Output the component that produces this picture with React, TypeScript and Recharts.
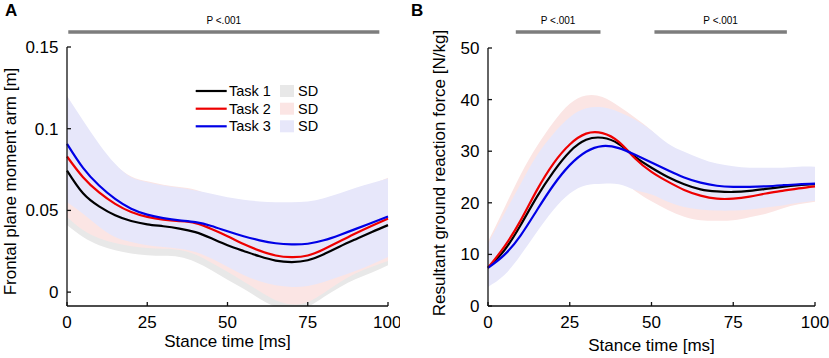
import { ComposedChart, Area, Line, XAxis, YAxis, ReferenceArea } from 'recharts';

const font = 'Arial, "Liberation Sans", Helvetica, sans-serif';

// stance time, ms
const time = [0, 5, 10, 15, 20, 25, 30, 35, 40, 45, 50, 55, 60, 65, 70, 75, 80, 85, 90, 95, 100];

// A: frontal plane moment arm [m]
const armTask1 = [0.0744, 0.0605, 0.0525, 0.047, 0.0435, 0.0415, 0.0403, 0.0389, 0.0367, 0.0329, 0.0287, 0.0252, 0.0219, 0.0193, 0.0184, 0.0195, 0.0232, 0.0279, 0.0324, 0.0368, 0.041];
const armTask2 = [0.083, 0.0703, 0.061, 0.054, 0.049, 0.046, 0.0443, 0.0434, 0.0422, 0.0386, 0.0342, 0.0294, 0.0254, 0.0224, 0.0214, 0.0224, 0.0263, 0.0311, 0.036, 0.0406, 0.045];
const armTask3 = [0.0907, 0.076, 0.0652, 0.057, 0.051, 0.0474, 0.0453, 0.0439, 0.0428, 0.0405, 0.0372, 0.0342, 0.0317, 0.0299, 0.0292, 0.0296, 0.0317, 0.035, 0.0387, 0.0425, 0.0463];
const armSd1Lo = [0.041, 0.0337, 0.0287, 0.0256, 0.0236, 0.0226, 0.0222, 0.0215, 0.0185, 0.0134, 0.0075, 0.002, -0.004, -0.009, -0.011, -0.009, -0.003, 0.003, 0.008, 0.012, 0.0165];
const armSd1Hi = [0.107, 0.087, 0.077, 0.068, 0.063, 0.06, 0.059, 0.057, 0.055, 0.052, 0.05, 0.049, 0.048, 0.048, 0.048, 0.048, 0.052, 0.055, 0.058, 0.062, 0.066];
const armSd2Lo = [0.046, 0.038, 0.033, 0.03, 0.028, 0.027, 0.0265, 0.0258, 0.023, 0.018, 0.0125, 0.0065, 0.0005, -0.005, -0.0075, -0.006, -0.0005, 0.006, 0.0115, 0.0155, 0.019];
const armSd2Hi = [0.12, 0.103, 0.089, 0.078, 0.0708, 0.0678, 0.0657, 0.0643, 0.0626, 0.059, 0.056, 0.052, 0.051, 0.05, 0.05, 0.051, 0.055, 0.059, 0.062, 0.066, 0.07];
const armSd3Lo = [0.055, 0.048, 0.04, 0.0337, 0.0307, 0.0287, 0.0276, 0.0266, 0.0246, 0.0205, 0.0155, 0.0105, 0.0066, 0.0042, 0.0032, 0.0038, 0.0062, 0.0095, 0.013, 0.017, 0.0215];
const armSd3Hi = [0.12, 0.105, 0.0907, 0.0785, 0.0703, 0.0673, 0.0652, 0.0638, 0.0622, 0.0602, 0.058, 0.0565, 0.0555, 0.055, 0.055, 0.0555, 0.0575, 0.0605, 0.0638, 0.0668, 0.0695];
const armTicks = [0, 0.05, 0.1, 0.15];
const armSig = [[0.4, 97.3]];

// B: resultant ground reaction force [N/kg]
const grfTask1 = [7.4, 10.8, 15.7, 21.2, 26.0, 29.9, 32.2, 32.6, 31.4, 28.9, 26.8, 25.0, 23.6, 22.6, 22.2, 22.1, 22.3, 22.7, 23.1, 23.4, 23.6];
const grfTask2 = [7.4, 11.5, 16.6, 22.5, 27.6, 31.3, 33.4, 33.5, 31.8, 28.6, 26.0, 24.1, 22.5, 21.4, 20.8, 20.8, 21.2, 21.8, 22.3, 22.8, 23.2];
const grfTask3 = [7.4, 9.9, 13.7, 18.6, 23.4, 27.3, 29.9, 31.0, 30.6, 29.3, 27.8, 26.3, 24.9, 23.9, 23.3, 23.1, 23.1, 23.2, 23.4, 23.6, 23.7];
const grfSd1Lo = [3.8, 6.5, 10.5, 15.0, 19.0, 22.2, 24.3, 25.0, 24.8, 23.0, 21.0, 19.5, 18.5, 17.9, 17.6, 17.7, 18.1, 18.7, 19.3, 19.9, 20.4];
const grfSd1Hi = [11.0, 17.0, 23.5, 29.5, 34.5, 37.8, 39.6, 39.6, 38.5, 36.0, 33.3, 30.8, 29.0, 27.5, 26.6, 26.3, 26.3, 26.5, 26.7, 26.8, 26.9];
const grfSd2Lo = [3.8, 6.8, 10.8, 15.2, 19.2, 22.5, 24.5, 25.3, 24.5, 22.3, 20.3, 18.6, 17.3, 16.6, 16.5, 16.6, 17.2, 17.9, 18.9, 19.7, 20.2];
const grfSd2Hi = [12.5, 19.0, 25.5, 31.0, 35.6, 39.2, 40.8, 40.5, 38.7, 36.5, 34.0, 30.8, 28.8, 27.5, 26.5, 26.0, 25.9, 26.0, 26.3, 26.5, 26.6];
const grfSd3Lo = [3.7, 6.0, 9.9, 14.4, 18.6, 21.8, 23.4, 23.7, 23.6, 22.5, 21.6, 20.2, 19.2, 18.7, 18.5, 18.5, 18.7, 19.1, 19.5, 20.0, 20.4];
const grfSd3Hi = [12.1, 17.9, 23.7, 29.2, 33.4, 36.6, 38.3, 38.5, 37.6, 36.1, 34.0, 31.5, 29.9, 28.6, 27.6, 27.1, 26.8, 26.8, 26.8, 27.0, 27.0];
const grfTicks = [0, 10, 20, 30, 40, 50];
const grfSig = [[8.5, 34.4], [50.9, 91.4]];

const xTicks = [0, 25, 50, 75, 100];

const taskColors = ['#000000', '#ee0000', '#0000e6'];
const sdColors = ['#e8e8e8', '#fbe5e4', '#e7e7fa'];

function buildRows(means: number[][], los: number[][], his: number[][]) {
  return time.map((t, i) => ({
    t,
    task1: means[0][i],
    task2: means[1][i],
    task3: means[2][i],
    sd1: [los[0][i], his[0][i]],
    sd2: [los[1][i], his[1][i]],
    sd3: [los[2][i], his[2][i]],
  }));
}

const armRows = buildRows(
  [armTask1, armTask2, armTask3],
  [armSd1Lo, armSd2Lo, armSd3Lo],
  [armSd1Hi, armSd2Hi, armSd3Hi],
);
const grfRows = buildRows(
  [grfTask1, grfTask2, grfTask3],
  [grfSd1Lo, grfSd2Lo, grfSd3Lo],
  [grfSd1Hi, grfSd2Hi, grfSd3Hi],
);

interface PanelProps {
  data: ReturnType<typeof buildRows>;
  width: number;
  yWidth: number;
  top: number;
  right: number;
  domain: [number, number];
  ticks: number[];
  yLabel: string;
  yLabelOffset: number;
  yLabelShift: number;
  xLabelOffset: number;
  sig: number[][];
  sigBar: [number, number];
}

function Panel(p: PanelProps) {
  const tickStyle = { fill: '#000', fontSize: 17, fontFamily: font };
  return (
    <ComposedChart width={p.width} height={358} data={p.data} margin={{ top: p.top, right: p.right, bottom: 0, left: 0 }}>
      <XAxis
        dataKey="t"
        type="number"
        domain={[0, 100]}
        ticks={xTicks}
        height={52}
        tickSize={-4}
        tickMargin={14}
        tick={tickStyle}
        axisLine={{ stroke: '#111', strokeWidth: 1.3 }}
        tickLine={{ stroke: '#111', strokeWidth: 1.3 }}
        label={{ value: 'Stance time [ms]', position: 'insideBottom', offset: p.xLabelOffset, fill: '#000', fontSize: 17, fontFamily: font }}
      />
      <YAxis
        type="number"
        domain={p.domain}
        ticks={p.ticks}
        allowDataOverflow
        width={p.yWidth}
        tickSize={-4}
        tickMargin={12.5}
        tick={tickStyle}
        axisLine={{ stroke: '#111', strokeWidth: 1.3 }}
        tickLine={{ stroke: '#111', strokeWidth: 1.3 }}
        label={{
          value: p.yLabel,
          angle: -90,
          position: 'insideLeft',
          offset: p.yLabelOffset,
          dy: p.yLabelShift,
          fill: '#000',
          fontSize: 17,
          fontFamily: font,
          style: { textAnchor: 'middle' },
        }}
      />
      {['sd1', 'sd2', 'sd3'].map((k, i) => (
        <Area
          key={k}
          type="natural"
          dataKey={k}
          stroke="none"
          fill={sdColors[i]}
          fillOpacity={1}
          dot={false}
          activeDot={false}
          isAnimationActive={false}
        />
      ))}
      {['task1', 'task2', 'task3'].map((k, i) => (
        <Line
          key={k}
          type="natural"
          dataKey={k}
          stroke={taskColors[i]}
          strokeWidth={2.2}
          dot={false}
          activeDot={false}
          isAnimationActive={false}
        />
      ))}
      {p.sig.map(([a, b], i) => (
        <ReferenceArea
          key={i}
          x1={a}
          x2={b}
          y1={p.sigBar[0]}
          y2={p.sigBar[1]}
          fill="#7d7d7d"
          fillOpacity={1}
          stroke="none"
          ifOverflow="visible"
          label={{ value: 'P <.001', position: 'top', offset: 6, fill: '#000', fontSize: 10, fontFamily: font }}
        />
      ))}
    </ComposedChart>
  );
}

function TaskLegend() {
  const rows = [11, 28.7, 46.3];
  return (
    <svg width={140} height={60} style={{ position: 'absolute', left: 190, top: 80 }}>
      {rows.map((y, i) => (
        <g key={i}>
          <line x1={5.7} x2={36.7} y1={y} y2={y} stroke={taskColors[i]} strokeWidth={2.2} />
          <text x={39} y={y} dominantBaseline="central" fontSize={14.5} fontFamily={font} fill="#000">
            {`Task ${i + 1}`}
          </text>
          <rect x={90} y={y - 6} width={14} height={12} fill={sdColors[i]} />
          <text x={108} y={y} dominantBaseline="central" fontSize={14.5} fontFamily={font} fill="#000">
            SD
          </text>
        </g>
      ))}
    </svg>
  );
}

export default function App() {
  return (
    <div style={{ position: 'absolute', left: 0, top: 0, width: 829, height: 358, background: '#fff', fontFamily: font }}>
      <div style={{ position: 'absolute', left: 0, top: 0 }}>
        <Panel
          data={armRows}
          width={400}
          yWidth={67}
          top={47}
          right={12}
          domain={[-0.0085, 0.15]}
          ticks={armTicks}
          yLabel="Frontal plane moment arm [m]"
          yLabelOffset={10}
          yLabelShift={5}
          xLabelOffset={11}
          sig={armSig}
          sigBar={[0.1581, 0.1602]}
        />
      </div>
      <div style={{ position: 'absolute', left: 420, top: 0 }}>
        <Panel
          data={grfRows}
          width={409}
          yWidth={68}
          top={48}
          right={14}
          domain={[0, 50]}
          ticks={grfTicks}
          yLabel="Resultant ground reaction force [N/kg]"
          yLabelOffset={19}
          yLabelShift={-4}
          xLabelOffset={7}
          sig={grfSig}
          sigBar={[52.76, 53.44]}
        />
      </div>
      <TaskLegend />
      <div style={{ position: 'absolute', left: 5, top: 1, fontSize: 17, fontWeight: 'bold', color: '#000' }}>A</div>
      <div style={{ position: 'absolute', left: 411, top: 1, fontSize: 17, fontWeight: 'bold', color: '#000' }}>B</div>
    </div>
  );
}
